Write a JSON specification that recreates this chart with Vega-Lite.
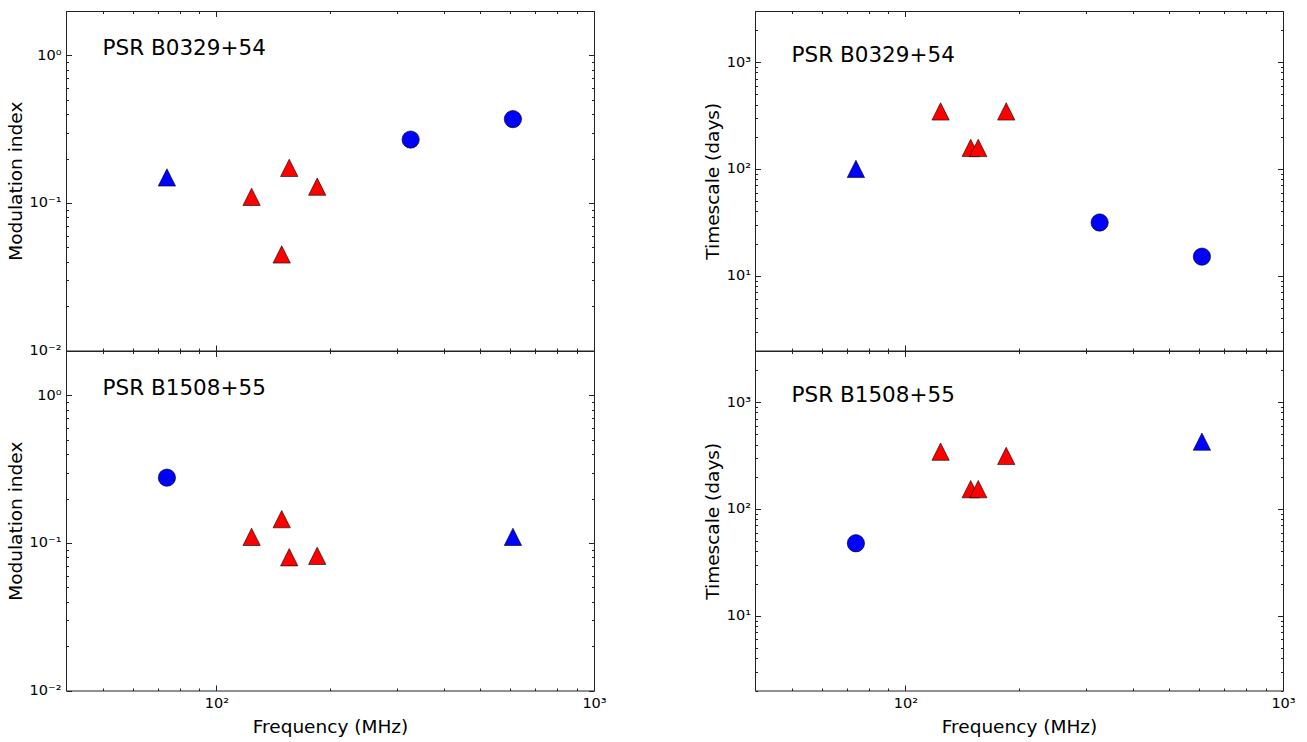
{
  "$schema": "https://vega.github.io/schema/vega-lite/v6.json",
  "background": "white",
  "padding": {"left": 5, "top": 10, "right": 20, "bottom": 4},
  "config": {
    "view": {"stroke": "#222", "strokeWidth": 1},
    "font": "DejaVu Sans",
    "axis": {
      "domain": false, "grid": false,
      "labelFont": "DejaVu Sans", "labelFontSize": 14.5, "labelColor": "#000",
      "labelFlush": false, "labelOverlap": false, "labelBound": false,
      "titleFont": "DejaVu Sans", "titleFontSize": 18.5, "titleFontWeight": "normal", "titleColor": "#000",
      "tickColor": "#222", "tickWidth": 1
    }
  },
  "datasets": {
    "b0329": [
      {"freq": 74, "mod": 0.149, "ts": 100, "marker": "tri", "col": "blue"},
      {"freq": 124, "mod": 0.110, "ts": 345, "marker": "tri", "col": "red"},
      {"freq": 149, "mod": 0.0448, "ts": 157, "marker": "tri", "col": "red"},
      {"freq": 156, "mod": 0.173, "ts": 157, "marker": "tri", "col": "red"},
      {"freq": 185, "mod": 0.129, "ts": 345, "marker": "tri", "col": "red"},
      {"freq": 327, "mod": 0.269, "ts": 31.5, "marker": "circle", "col": "blue"},
      {"freq": 610, "mod": 0.370, "ts": 15.1, "marker": "circle", "col": "blue"}
    ],
    "b1508": [
      {"freq": 74, "mod": 0.277, "ts": 47.7, "marker": "circle", "col": "blue"},
      {"freq": 124, "mod": 0.110, "ts": 343, "marker": "tri", "col": "red"},
      {"freq": 149, "mod": 0.145, "ts": 153, "marker": "tri", "col": "red"},
      {"freq": 156, "mod": 0.080, "ts": 153, "marker": "tri", "col": "red"},
      {"freq": 185, "mod": 0.0818, "ts": 313, "marker": "tri", "col": "red"},
      {"freq": 610, "mod": 0.110, "ts": 426, "marker": "tri", "col": "blue"}
    ]
  },
  "columns": 2,
  "spacing": {"row": 0, "column": 161},
  "bounds": "flush",
  "concat": [
    {
      "width": 528, "height": 339.5,
      "data": {"name": "b0329"},
      "resolve": {"axis": {"x": "independent", "y": "independent"}},
      "layer": [
        {
          "mark": {"type": "point", "filled": true, "size": 300, "stroke": "#000", "strokeWidth": 0.6, "opacity": 1},
          "encoding": {
            "x": {"field": "freq", "type": "quantitative", "scale": {"type": "log", "domain": [40, 1000], "nice": false}, "axis": {"orient": "bottom", "values": [100, 1000], "labels": false, "tickSize": -5.5, "title": null}},
            "y": {"field": "mod", "type": "quantitative", "scale": {"type": "log", "domain": [0.01, 2], "nice": false}, "axis": {"orient": "left", "values": [0.01, 0.1, 1], "labelExpr": "datum.value < 0.05 ? '10⁻²' : datum.value < 0.5 ? '10⁻¹' : '10⁰'", "tickSize": -5.5, "labelPadding": 10.5, "title": "Modulation index", "titlePadding": 4}},
            "shape": {"field": "marker", "type": "nominal", "scale": {"domain": ["tri", "circle"], "range": ["M0,-1L-1,1L1,1Z", "circle"]}, "legend": null},
            "color": {"field": "col", "type": "nominal", "scale": {"domain": ["red", "blue"], "range": ["#ff0000", "#0000ff"]}, "legend": null}
          }
        },
        {
          "mark": {"type": "point", "opacity": 0},
          "encoding": {
            "x": {"field": "freq", "type": "quantitative", "scale": {"type": "log", "domain": [40, 1000], "nice": false}, "axis": {"orient": "bottom", "values": [40, 50, 60, 70, 80, 90, 200, 300, 400, 500, 600, 700, 800, 900], "labels": false, "tickSize": -2.5, "title": null}},
            "y": {"field": "mod", "type": "quantitative", "scale": {"type": "log", "domain": [0.01, 2], "nice": false}, "axis": {"orient": "left", "values": [0.02, 0.03, 0.04, 0.05, 0.06, 0.07, 0.08, 0.09, 0.2, 0.3, 0.4, 0.5, 0.6, 0.7, 0.8, 0.9, 2], "labels": false, "tickSize": -2.5, "title": null}}
          }
        },
        {
          "mark": {"type": "point", "opacity": 0},
          "encoding": {
            "x": {"field": "freq", "type": "quantitative", "scale": {"type": "log", "domain": [40, 1000], "nice": false}, "axis": {"orient": "top", "values": [100, 1000], "labels": false, "tickSize": -5.5, "title": null}},
            "y": {"field": "mod", "type": "quantitative", "scale": {"type": "log", "domain": [0.01, 2], "nice": false}, "axis": {"orient": "right", "values": [0.01, 0.1, 1], "labels": false, "tickSize": -5.5, "title": null}}
          }
        },
        {
          "mark": {"type": "point", "opacity": 0},
          "encoding": {
            "x": {"field": "freq", "type": "quantitative", "scale": {"type": "log", "domain": [40, 1000], "nice": false}, "axis": {"orient": "top", "values": [40, 50, 60, 70, 80, 90, 200, 300, 400, 500, 600, 700, 800, 900], "labels": false, "tickSize": -2.5, "title": null}},
            "y": {"field": "mod", "type": "quantitative", "scale": {"type": "log", "domain": [0.01, 2], "nice": false}, "axis": {"orient": "right", "values": [0.02, 0.03, 0.04, 0.05, 0.06, 0.07, 0.08, 0.09, 0.2, 0.3, 0.4, 0.5, 0.6, 0.7, 0.8, 0.9, 2], "labels": false, "tickSize": -2.5, "title": null}}
          }
        },
        {
          "data": {"values": [{"f": 50, "v": 1, "t": "PSR B0329+54"}]},
          "mark": {"type": "text", "align": "left", "baseline": "alphabetic", "fontSize": 21.5, "font": "DejaVu Sans", "color": "#000"},
          "encoding": {
            "x": {"field": "f", "type": "quantitative", "scale": {"type": "log", "domain": [40, 1000], "nice": false}, "axis": null},
            "y": {"field": "v", "type": "quantitative", "scale": {"type": "log", "domain": [0.01, 2], "nice": false}, "axis": null},
            "text": {"field": "t"}
          }
        }
      ]
    },
    {
      "width": 528, "height": 339.5,
      "data": {"name": "b0329"},
      "resolve": {"axis": {"x": "independent", "y": "independent"}},
      "layer": [
        {
          "mark": {"type": "point", "filled": true, "size": 300, "stroke": "#000", "strokeWidth": 0.6, "opacity": 1},
          "encoding": {
            "x": {"field": "freq", "type": "quantitative", "scale": {"type": "log", "domain": [40, 1000], "nice": false}, "axis": {"orient": "bottom", "values": [100, 1000], "labels": false, "tickSize": -5.5, "title": null}},
            "y": {"field": "ts", "type": "quantitative", "scale": {"type": "log", "domain": [2, 3000], "nice": false}, "axis": {"orient": "left", "values": [10, 100, 1000], "labelExpr": "datum.value < 50 ? '10¹' : datum.value < 500 ? '10²' : '10³'", "tickSize": -5.5, "labelPadding": 10, "title": "Timescale (days)", "titlePadding": 4}},
            "shape": {"field": "marker", "type": "nominal", "scale": {"domain": ["tri", "circle"], "range": ["M0,-1L-1,1L1,1Z", "circle"]}, "legend": null},
            "color": {"field": "col", "type": "nominal", "scale": {"domain": ["red", "blue"], "range": ["#ff0000", "#0000ff"]}, "legend": null}
          }
        },
        {
          "mark": {"type": "point", "opacity": 0},
          "encoding": {
            "x": {"field": "freq", "type": "quantitative", "scale": {"type": "log", "domain": [40, 1000], "nice": false}, "axis": {"orient": "bottom", "values": [40, 50, 60, 70, 80, 90, 200, 300, 400, 500, 600, 700, 800, 900], "labels": false, "tickSize": -2.5, "title": null}},
            "y": {"field": "ts", "type": "quantitative", "scale": {"type": "log", "domain": [2, 3000], "nice": false}, "axis": {"orient": "left", "values": [2, 3, 4, 5, 6, 7, 8, 9, 20, 30, 40, 50, 60, 70, 80, 90, 200, 300, 400, 500, 600, 700, 800, 900, 2000, 3000], "labels": false, "tickSize": -2.5, "title": null}}
          }
        },
        {
          "mark": {"type": "point", "opacity": 0},
          "encoding": {
            "x": {"field": "freq", "type": "quantitative", "scale": {"type": "log", "domain": [40, 1000], "nice": false}, "axis": {"orient": "top", "values": [100, 1000], "labels": false, "tickSize": -5.5, "title": null}},
            "y": {"field": "ts", "type": "quantitative", "scale": {"type": "log", "domain": [2, 3000], "nice": false}, "axis": {"orient": "right", "values": [10, 100, 1000], "labels": false, "tickSize": -5.5, "title": null}}
          }
        },
        {
          "mark": {"type": "point", "opacity": 0},
          "encoding": {
            "x": {"field": "freq", "type": "quantitative", "scale": {"type": "log", "domain": [40, 1000], "nice": false}, "axis": {"orient": "top", "values": [40, 50, 60, 70, 80, 90, 200, 300, 400, 500, 600, 700, 800, 900], "labels": false, "tickSize": -2.5, "title": null}},
            "y": {"field": "ts", "type": "quantitative", "scale": {"type": "log", "domain": [2, 3000], "nice": false}, "axis": {"orient": "right", "values": [2, 3, 4, 5, 6, 7, 8, 9, 20, 30, 40, 50, 60, 70, 80, 90, 200, 300, 400, 500, 600, 700, 800, 900, 2000, 3000], "labels": false, "tickSize": -2.5, "title": null}}
          }
        },
        {
          "data": {"values": [{"f": 50, "v": 1000, "t": "PSR B0329+54"}]},
          "mark": {"type": "text", "align": "left", "baseline": "alphabetic", "fontSize": 21.5, "font": "DejaVu Sans", "color": "#000"},
          "encoding": {
            "x": {"field": "f", "type": "quantitative", "scale": {"type": "log", "domain": [40, 1000], "nice": false}, "axis": null},
            "y": {"field": "v", "type": "quantitative", "scale": {"type": "log", "domain": [2, 3000], "nice": false}, "axis": null},
            "text": {"field": "t"}
          }
        }
      ]
    },
    {
      "width": 528, "height": 339.5,
      "data": {"name": "b1508"},
      "resolve": {"axis": {"x": "independent", "y": "independent"}},
      "layer": [
        {
          "mark": {"type": "point", "filled": true, "size": 300, "stroke": "#000", "strokeWidth": 0.6, "opacity": 1},
          "encoding": {
            "x": {"field": "freq", "type": "quantitative", "scale": {"type": "log", "domain": [40, 1000], "nice": false}, "axis": {"orient": "bottom", "values": [100, 1000], "labelExpr": "datum.value < 500 ? '10²' : '10³'", "tickSize": -5.5, "labelPadding": 11.5, "title": "Frequency (MHz)", "titlePadding": 7}},
            "y": {"field": "mod", "type": "quantitative", "scale": {"type": "log", "domain": [0.01, 2], "nice": false}, "axis": {"orient": "left", "values": [0.01, 0.1, 1], "labelExpr": "datum.value < 0.05 ? '10⁻²' : datum.value < 0.5 ? '10⁻¹' : '10⁰'", "tickSize": -5.5, "labelPadding": 10.5, "title": "Modulation index", "titlePadding": 4}},
            "shape": {"field": "marker", "type": "nominal", "scale": {"domain": ["tri", "circle"], "range": ["M0,-1L-1,1L1,1Z", "circle"]}, "legend": null},
            "color": {"field": "col", "type": "nominal", "scale": {"domain": ["red", "blue"], "range": ["#ff0000", "#0000ff"]}, "legend": null}
          }
        },
        {
          "mark": {"type": "point", "opacity": 0},
          "encoding": {
            "x": {"field": "freq", "type": "quantitative", "scale": {"type": "log", "domain": [40, 1000], "nice": false}, "axis": {"orient": "bottom", "values": [40, 50, 60, 70, 80, 90, 200, 300, 400, 500, 600, 700, 800, 900], "labels": false, "tickSize": -2.5, "title": null}},
            "y": {"field": "mod", "type": "quantitative", "scale": {"type": "log", "domain": [0.01, 2], "nice": false}, "axis": {"orient": "left", "values": [0.02, 0.03, 0.04, 0.05, 0.06, 0.07, 0.08, 0.09, 0.2, 0.3, 0.4, 0.5, 0.6, 0.7, 0.8, 0.9, 2], "labels": false, "tickSize": -2.5, "title": null}}
          }
        },
        {
          "mark": {"type": "point", "opacity": 0},
          "encoding": {
            "x": {"field": "freq", "type": "quantitative", "scale": {"type": "log", "domain": [40, 1000], "nice": false}, "axis": {"orient": "top", "values": [100, 1000], "labels": false, "tickSize": -5.5, "title": null}},
            "y": {"field": "mod", "type": "quantitative", "scale": {"type": "log", "domain": [0.01, 2], "nice": false}, "axis": {"orient": "right", "values": [0.01, 0.1, 1], "labels": false, "tickSize": -5.5, "title": null}}
          }
        },
        {
          "mark": {"type": "point", "opacity": 0},
          "encoding": {
            "x": {"field": "freq", "type": "quantitative", "scale": {"type": "log", "domain": [40, 1000], "nice": false}, "axis": {"orient": "top", "values": [40, 50, 60, 70, 80, 90, 200, 300, 400, 500, 600, 700, 800, 900], "labels": false, "tickSize": -2.5, "title": null}},
            "y": {"field": "mod", "type": "quantitative", "scale": {"type": "log", "domain": [0.01, 2], "nice": false}, "axis": {"orient": "right", "values": [0.02, 0.03, 0.04, 0.05, 0.06, 0.07, 0.08, 0.09, 0.2, 0.3, 0.4, 0.5, 0.6, 0.7, 0.8, 0.9, 2], "labels": false, "tickSize": -2.5, "title": null}}
          }
        },
        {
          "data": {"values": [{"f": 50, "v": 1, "t": "PSR B1508+55"}]},
          "mark": {"type": "text", "align": "left", "baseline": "alphabetic", "fontSize": 21.5, "font": "DejaVu Sans", "color": "#000"},
          "encoding": {
            "x": {"field": "f", "type": "quantitative", "scale": {"type": "log", "domain": [40, 1000], "nice": false}, "axis": null},
            "y": {"field": "v", "type": "quantitative", "scale": {"type": "log", "domain": [0.01, 2], "nice": false}, "axis": null},
            "text": {"field": "t"}
          }
        }
      ]
    },
    {
      "width": 528, "height": 339.5,
      "data": {"name": "b1508"},
      "resolve": {"axis": {"x": "independent", "y": "independent"}},
      "layer": [
        {
          "mark": {"type": "point", "filled": true, "size": 300, "stroke": "#000", "strokeWidth": 0.6, "opacity": 1},
          "encoding": {
            "x": {"field": "freq", "type": "quantitative", "scale": {"type": "log", "domain": [40, 1000], "nice": false}, "axis": {"orient": "bottom", "values": [100, 1000], "labelExpr": "datum.value < 500 ? '10²' : '10³'", "tickSize": -5.5, "labelPadding": 11.5, "title": "Frequency (MHz)", "titlePadding": 7}},
            "y": {"field": "ts", "type": "quantitative", "scale": {"type": "log", "domain": [2, 3000], "nice": false}, "axis": {"orient": "left", "values": [10, 100, 1000], "labelExpr": "datum.value < 50 ? '10¹' : datum.value < 500 ? '10²' : '10³'", "tickSize": -5.5, "labelPadding": 10, "title": "Timescale (days)", "titlePadding": 4}},
            "shape": {"field": "marker", "type": "nominal", "scale": {"domain": ["tri", "circle"], "range": ["M0,-1L-1,1L1,1Z", "circle"]}, "legend": null},
            "color": {"field": "col", "type": "nominal", "scale": {"domain": ["red", "blue"], "range": ["#ff0000", "#0000ff"]}, "legend": null}
          }
        },
        {
          "mark": {"type": "point", "opacity": 0},
          "encoding": {
            "x": {"field": "freq", "type": "quantitative", "scale": {"type": "log", "domain": [40, 1000], "nice": false}, "axis": {"orient": "bottom", "values": [40, 50, 60, 70, 80, 90, 200, 300, 400, 500, 600, 700, 800, 900], "labels": false, "tickSize": -2.5, "title": null}},
            "y": {"field": "ts", "type": "quantitative", "scale": {"type": "log", "domain": [2, 3000], "nice": false}, "axis": {"orient": "left", "values": [2, 3, 4, 5, 6, 7, 8, 9, 20, 30, 40, 50, 60, 70, 80, 90, 200, 300, 400, 500, 600, 700, 800, 900, 2000, 3000], "labels": false, "tickSize": -2.5, "title": null}}
          }
        },
        {
          "mark": {"type": "point", "opacity": 0},
          "encoding": {
            "x": {"field": "freq", "type": "quantitative", "scale": {"type": "log", "domain": [40, 1000], "nice": false}, "axis": {"orient": "top", "values": [100, 1000], "labels": false, "tickSize": -5.5, "title": null}},
            "y": {"field": "ts", "type": "quantitative", "scale": {"type": "log", "domain": [2, 3000], "nice": false}, "axis": {"orient": "right", "values": [10, 100, 1000], "labels": false, "tickSize": -5.5, "title": null}}
          }
        },
        {
          "mark": {"type": "point", "opacity": 0},
          "encoding": {
            "x": {"field": "freq", "type": "quantitative", "scale": {"type": "log", "domain": [40, 1000], "nice": false}, "axis": {"orient": "top", "values": [40, 50, 60, 70, 80, 90, 200, 300, 400, 500, 600, 700, 800, 900], "labels": false, "tickSize": -2.5, "title": null}},
            "y": {"field": "ts", "type": "quantitative", "scale": {"type": "log", "domain": [2, 3000], "nice": false}, "axis": {"orient": "right", "values": [2, 3, 4, 5, 6, 7, 8, 9, 20, 30, 40, 50, 60, 70, 80, 90, 200, 300, 400, 500, 600, 700, 800, 900, 2000, 3000], "labels": false, "tickSize": -2.5, "title": null}}
          }
        },
        {
          "data": {"values": [{"f": 50, "v": 1000, "t": "PSR B1508+55"}]},
          "mark": {"type": "text", "align": "left", "baseline": "alphabetic", "fontSize": 21.5, "font": "DejaVu Sans", "color": "#000"},
          "encoding": {
            "x": {"field": "f", "type": "quantitative", "scale": {"type": "log", "domain": [40, 1000], "nice": false}, "axis": null},
            "y": {"field": "v", "type": "quantitative", "scale": {"type": "log", "domain": [2, 3000], "nice": false}, "axis": null},
            "text": {"field": "t"}
          }
        }
      ]
    }
  ]
}
